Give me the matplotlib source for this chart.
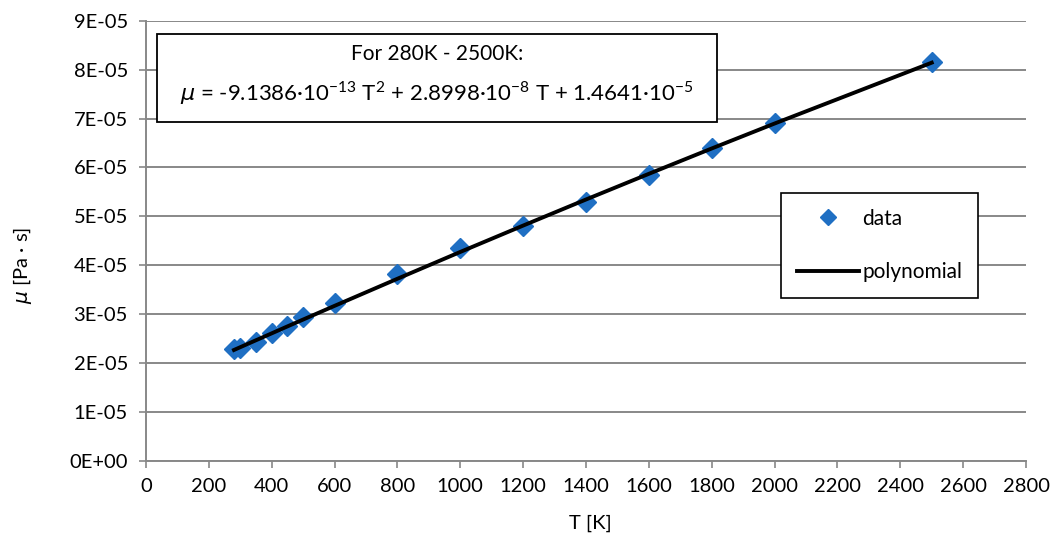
import matplotlib
matplotlib.use("Agg")
import matplotlib.pyplot as plt
from matplotlib.ticker import FuncFormatter, MultipleLocator
from matplotlib.patches import Rectangle

plt.rcParams['font.family'] = ['Lato', 'DejaVu Sans']
plt.rcParams['mathtext.fontset'] = 'custom'
plt.rcParams['mathtext.rm'] = 'Lato'
plt.rcParams['mathtext.it'] = 'DejaVu Sans:italic'

# data
T = [280, 300, 350, 400, 450, 500, 600, 800, 1000, 1200, 1400, 1600, 1800, 2000, 2500]
mu = [2.283e-5, 2.316e-5, 2.438e-5, 2.610e-5, 2.759e-5, 2.937e-5, 3.235e-5, 3.822e-5,
      4.347e-5, 4.809e-5, 5.287e-5, 5.845e-5, 6.391e-5, 6.902e-5, 8.161e-5]

# polynomial trend line values at the same temperatures
mu_fit = [2.269e-5, 2.326e-5, 2.468e-5, 2.609e-5, 2.751e-5, 2.891e-5, 3.171e-5, 3.725e-5,
          4.273e-5, 4.812e-5, 5.345e-5, 5.870e-5, 6.388e-5, 6.898e-5, 8.142e-5]

blue = '#1f6fc3'
grid_grey = '#888888'

fig = plt.figure(figsize=(10.57, 5.46), dpi=100)
ax = fig.add_axes([0.1381, 0.1557, 0.8326, 0.8064])

ax.plot(T, mu, linestyle='none', marker='D', markersize=10.5, color=blue, label='data', zorder=3)
ax.plot(T, mu_fit, color='black', linewidth=2.8, label='polynomial', zorder=4)

ax.set_xlim(0, 2800)
ax.set_ylim(0, 9e-5)
ax.xaxis.set_major_locator(MultipleLocator(200))
ax.yaxis.set_major_locator(MultipleLocator(1e-5))
ax.yaxis.set_major_formatter(FuncFormatter(lambda v, p: f"{v:.0E}"))

ax.grid(axis='y', color=grid_grey, linewidth=1.4)
ax.set_axisbelow(True)
for s in ['top', 'right']:
    ax.spines[s].set_visible(False)
for s in ['left', 'bottom']:
    ax.spines[s].set_color(grid_grey)
    ax.spines[s].set_linewidth(1.4)
ax.tick_params(colors=grid_grey, labelcolor='black', length=5, width=1.2, labelsize=14.5)
ax.tick_params(axis='x', pad=7)
ax.tick_params(axis='y', pad=8)

ax.set_xlabel('T [K]', fontsize=14.5)
ax.set_ylabel(r'$\mu$ [Pa · s]', fontsize=14.5)
ax.xaxis.set_label_coords(0.5045, -0.122)
ax.yaxis.set_label_coords(-0.127, 0.445)

# equation box
ax.add_patch(Rectangle((0.0125, 0.770), 0.6364, 0.1998, transform=ax.transAxes,
                       facecolor='white', edgecolor='black', linewidth=1.3, zorder=5))
ax.text(0.3307, 0.9247, 'For 280K - 2500K:', transform=ax.transAxes,
        ha='center', va='center', fontsize=15, zorder=6)
ax.text(0.3307, 0.8358,
        r'$\mu$ = -9.1386·10$^{\mathrm{-13}}$ T$^{\mathrm{2}}$ + 2.8998·10$^{\mathrm{-8}}$ T + 1.4641·10$^{\mathrm{-5}}$',
        transform=ax.transAxes, ha='center', va='center', fontsize=16, zorder=6)

leg = ax.legend(loc='upper left', bbox_to_anchor=(0.7216, 0.6087), borderaxespad=0,
                fontsize=15, fancybox=False, edgecolor='black', framealpha=1,
                markerscale=0.8, handlelength=3.0, handletextpad=0.15,
                borderpad=0.75, labelspacing=1.6)
leg.get_frame().set_linewidth(1.2)
leg.set_zorder(6)

fig.savefig('out.png', dpi=100)
